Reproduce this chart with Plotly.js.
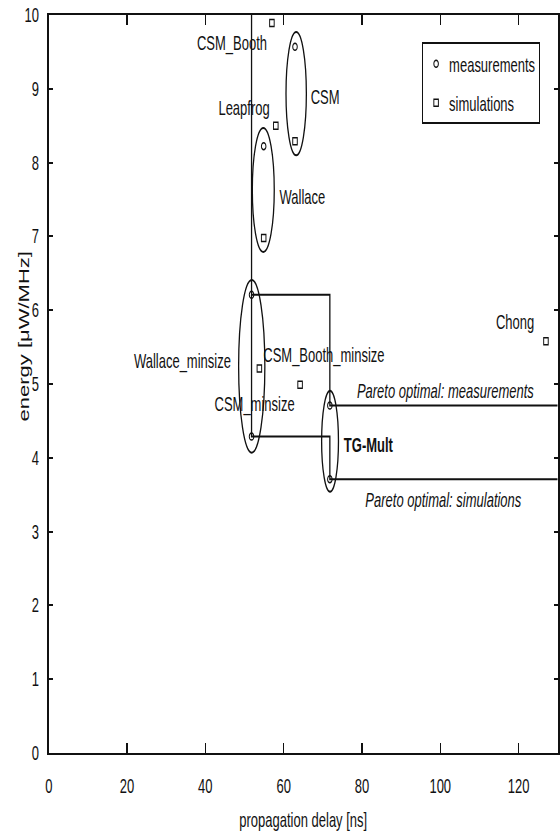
<!DOCTYPE html>
<html>
<head>
<meta charset="utf-8">
<script src="https://cdn.plot.ly/plotly-3.0.1.min.js"></script>
<style>
  html, body { margin: 0; padding: 0; background: #fff; overflow: hidden; }
  #wrap { width: 560px; height: 831px; overflow: hidden; }
  #chart { width: 862px; height: 831px; transform: scaleX(0.65); transform-origin: 0 0; }
</style>
</head>
<body>
<div id="wrap"><div id="chart"></div></div>
<script>
// ---- data ----
const measNames  = ['CSM', 'Wallace', 'Wallace_minsize', 'CSM_minsize', 'TG-Mult', 'TG-Mult'];
const measDelay  = [62.9, 54.9, 51.8, 51.8, 71.8, 71.8];
const measEnergy = [9.57, 8.22, 6.21, 4.29, 4.71, 3.71];

const simNames  = ['CSM_Booth', 'CSM', 'Leapfrog', 'Wallace', 'Wallace_minsize', 'CSM_Booth_minsize', 'Chong'];
const simDelay  = [57.0, 62.9, 58.0, 54.9, 53.8, 64.2, 127.0];
const simEnergy = [9.89, 8.29, 8.50, 6.98, 5.21, 4.99, 5.58];

const paretoMeasDelay  = [51.8, 51.8, 71.8, 71.8, 130];
const paretoMeasEnergy = [10, 6.21, 6.21, 4.71, 4.71];
const paretoSimDelay   = [51.8, 51.8, 71.8, 71.8, 130];
const paretoSimEnergy  = [6.21, 4.29, 4.29, 3.71, 3.71];

// grouping ellipses (delay / energy extents)
const groupDelayMin  = [60.6, 52.0, 48.5, 69.7];
const groupDelayMax  = [65.8, 57.6, 55.2, 74.0];
const groupEnergyMin = [8.10, 6.79, 4.07, 3.54];
const groupEnergyMax = [9.77, 8.47, 6.41, 4.91];

const xTicks = [0, 20, 40, 60, 80, 100, 120];
const yTicks = [0, 1, 2, 3, 4, 5, 6, 7, 8, 9, 10];

// ---- labels ----
const labels = [
  {t: 'CSM_Booth', x: 56.05, y: 9.62, a: 'right'},
  {t: 'CSM', x: 66.5, y: 8.89, a: 'left'},
  {t: 'Leapfrog', x: 56.8, y: 8.74, a: 'right'},
  {t: 'Wallace', x: 58.6, y: 7.53, a: 'left'},
  {t: 'Wallace_minsize', x: 46.8, y: 5.30, a: 'right'},
  {t: 'CSM_Booth_minsize', x: 54.4, y: 5.39, a: 'left'},
  {t: 'CSM_minsize', x: 63.1, y: 4.72, a: 'right'},
  {t: '<b>TG-Mult</b>', x: 75.0, y: 4.17, a: 'left'},
  {t: '<i>Pareto optimal: measurements</i>', x: 78.4, y: 4.90, a: 'left'},
  {t: '<i>Pareto optimal: simulations</i>', x: 80.5, y: 3.43, a: 'left'},
  {t: 'Chong', x: 124.3, y: 5.84, a: 'right'}
];

const ink = '#111';
const traces = [
  {x: paretoMeasDelay, y: paretoMeasEnergy, mode: 'lines', line: {color: ink, width: 2}, showlegend: false, hoverinfo: 'skip'},
  {x: paretoSimDelay, y: paretoSimEnergy, mode: 'lines', line: {color: ink, width: 2}, showlegend: false, hoverinfo: 'skip'},
  {x: measDelay, y: measEnergy, text: measNames, mode: 'markers', name: 'measurements', legendgroup: 'm',
   marker: {symbol: 'circle-open', size: 7, color: ink, line: {width: 1.5, color: ink}}},
  {x: simDelay, y: simEnergy, text: simNames, mode: 'markers', name: 'simulations', legendgroup: 's',
   marker: {symbol: 'square-open', size: 7, color: ink, line: {width: 1.5, color: ink}}}
];

const shapes = groupDelayMin.map((d, i) => ({
  type: 'circle', xref: 'x', yref: 'y',
  x0: d, x1: groupDelayMax[i], y0: groupEnergyMin[i], y1: groupEnergyMax[i],
  line: {color: ink, width: 2}
}));

const annotations = labels.map(l => ({
  text: l.t, x: l.x, y: l.y, xref: 'x', yref: 'y', xanchor: l.a, yanchor: 'middle',
  showarrow: false, font: {size: 20, color: ink}
}));
annotations.push({
  text: 'energy [\u03bcW/MHz]', xref: 'paper', yref: 'paper', x: -0.048, y: 0.565,
  xanchor: 'center', yanchor: 'middle', textangle: -90, showarrow: false,
  font: {size: 22, color: ink}
});

const layout = {
  width: 862, height: 831,
  margin: {l: 75, r: 4, t: 15, b: 78},
  paper_bgcolor: '#fff', plot_bgcolor: '#fff',
  font: {family: 'Liberation Sans, Arial, sans-serif', size: 20, color: ink},
  showlegend: true,
  legend: {x: 0.733, y: 0.963, xanchor: 'left', yanchor: 'top', bgcolor: '#fff',
           bordercolor: ink, borderwidth: 2, tracegroupgap: 10, font: {size: 20}},
  xaxis: {range: [0, 130], tickvals: xTicks, ticks: 'inside', ticklen: 10, tickwidth: 2, tickcolor: ink,
          mirror: 'ticks', showline: true, linecolor: ink, linewidth: 2, showgrid: false, zeroline: false,
          ticklabelstandoff: 14, title: {text: 'propagation delay [ns]', standoff: 18, font: {size: 20}}},
  yaxis: {range: [0, 10], tickvals: yTicks, ticks: 'inside', ticklen: 6, tickwidth: 2, tickcolor: ink,
          mirror: 'ticks', showline: true, linecolor: ink, linewidth: 3, showgrid: false, zeroline: false,
          ticklabelstandoff: 8},
  shapes: shapes,
  annotations: annotations
};

Plotly.newPlot('chart', traces, layout, {displayModeBar: false, staticPlot: true});
</script>
</body>
</html>
